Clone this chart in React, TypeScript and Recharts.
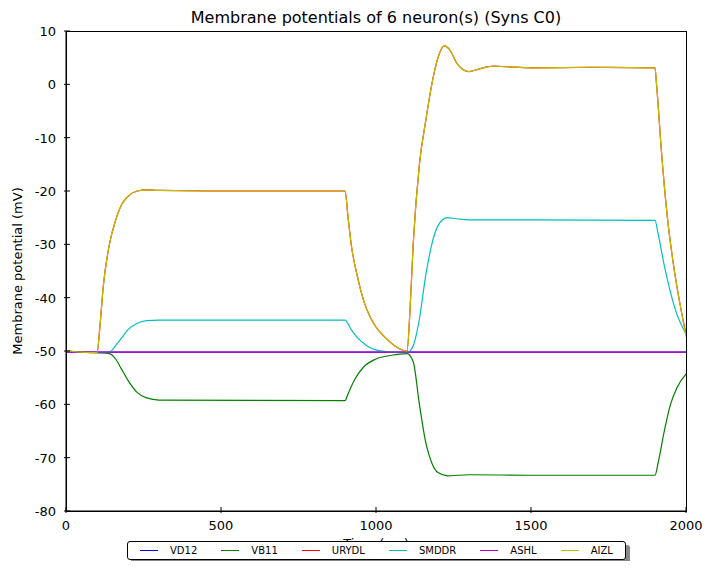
import React from "react";
import { LineChart, Line, XAxis, YAxis } from "recharts";

const tVD12 = [0, 2000];
const vVD12 = [-50.2, -50.2];
const tASHL = [0, 2000];
const vASHL = [-50.2, -50.2];
const tFast = [0, 50, 100, 110, 120, 140, 160, 180, 200, 230, 260, 300, 500, 900, 910, 920, 940, 960, 980, 1000, 1030, 1060, 1100, 1110, 1120, 1140, 1160, 1180, 1200, 1220, 1240, 1260, 1280, 1300, 1340, 1380, 1420, 1500, 1700, 1900, 1905, 1920, 1940, 1960, 1980, 2000];
const vURYDL = [-50, -50.2, -50.3, -45, -38, -30, -25.5, -22.5, -21, -20, -19.8, -19.9, -20, -20, -25, -30, -36, -40.5, -43.5, -45.5, -47.5, -49, -50, -42, -30, -15, -7, 0, 5, 7.2, 6.3, 4, 2.8, 2.4, 3, 3.4, 3.3, 3.1, 3.2, 3.1, 0, -12, -25, -34, -41, -46.8];
const vAIZL = [-50, -50.2, -50.3, -45, -38, -30, -25.5, -22.5, -21, -20, -19.8, -19.9, -20, -20, -25, -30, -36, -40.5, -43.5, -45.5, -47.5, -49, -50, -42, -30, -15, -7, 0, 5, 7.2, 6.3, 4, 2.8, 2.4, 3, 3.4, 3.3, 3.1, 3.2, 3.1, 0, -12, -25, -34, -41, -47.3];
const tSMDDR = [0, 100, 140, 160, 180, 200, 230, 260, 300, 900, 920, 940, 970, 1000, 1050, 1100, 1120, 1140, 1160, 1180, 1200, 1230, 1260, 1300, 1500, 1900, 1910, 1930, 1950, 1970, 2000];
const vSMDDR = [-50, -50.3, -50.2, -49, -47.5, -46, -44.8, -44.3, -44.2, -44.2, -46, -47.5, -49, -49.8, -50.2, -50.3, -49, -44, -36, -30, -26.5, -25, -25.2, -25.4, -25.4, -25.5, -28, -34, -39, -43, -46.8];
const tVB11 = [0, 100, 140, 160, 180, 200, 230, 260, 300, 900, 910, 930, 960, 1000, 1050, 1100, 1120, 1140, 1160, 1180, 1200, 1230, 1300, 1500, 1900, 1910, 1930, 1950, 1970, 2000];
const vVB11 = [-50, -50.3, -50.5, -51.5, -53.5, -55.5, -57.8, -58.8, -59.2, -59.3, -58, -55.5, -53, -51.5, -50.8, -50.5, -52, -60, -67, -71, -72.8, -73.4, -73.2, -73.3, -73.3, -71, -65, -60, -57, -54.3];

const xTicks = [0, 500, 1000, 1500, 2000];
const yTicks = [-80, -70, -60, -50, -40, -30, -20, -10, 0, 10];

const mk = (t: number[], v: number[]) => t.map((x, i) => ({ t: x, v: v[i] }));

const series = [
  { name: "VD12", color: "#0000ff", data: mk(tVD12, vVD12) },
  { name: "VB11", color: "#008000", data: mk(tVB11, vVB11) },
  { name: "URYDL", color: "#ff0000", data: mk(tFast, vURYDL) },
  { name: "SMDDR", color: "#00bfbf", data: mk(tSMDDR, vSMDDR) },
  { name: "ASHL", color: "#bf00bf", data: mk(tASHL, vASHL) },
  { name: "AIZL", color: "#bfbf00", data: mk(tFast, vAIZL) },
];

const font = "DejaVu Sans, sans-serif";

const BottomTick = (p: any) => (
  <g>
    <line x1={p.x} x2={p.x} y1={p.y} y2={p.y - 6} stroke="#000" />
    <text x={p.x} y={p.y + 17} textAnchor="middle" fontSize={13} fontFamily={font} fill="#000">{p.payload.value}</text>
  </g>
);
const TopTick = (p: any) => <line x1={p.x} x2={p.x} y1={p.y} y2={p.y + 6} stroke="#000" />;
const LeftTick = (p: any) => (
  <g>
    <line x1={p.x} x2={p.x + 6} y1={p.y} y2={p.y} stroke="#000" />
    <text x={p.x - 8} y={p.y + 5} textAnchor="end" fontSize={13} fontFamily={font} fill="#000">{p.payload.value}</text>
  </g>
);
const RightTick = (p: any) => <line x1={p.x} x2={p.x - 6} y1={p.y} y2={p.y} stroke="#000" />;

export default function App() {
  return (
    <div style={{ position: "relative", width: 713, height: 569, margin: -8, background: "#fff", fontFamily: font }}>
      <div style={{ position: "absolute", top: 8, left: 0, width: 752, textAlign: "center", fontSize: 16 }}>
        Membrane potentials of 6 neuron(s) (Syns C0)
      </div>
      <div style={{ position: "absolute", left: 2, top: 271, fontSize: 13, transform: "translate(0,-50%) rotate(-90deg)", transformOrigin: "center", width: 30, display: "flex", justifyContent: "center", whiteSpace: "nowrap" }}>
        <span>Membrane potential (mV)</span>
      </div>
      <div style={{ position: "absolute", left: 0, top: 536, width: 752, textAlign: "center", fontSize: 13 }}>Time (ms)</div>
      <LineChart width={713} height={569} margin={{ top: 31, right: 27, left: 10, bottom: 28 }} style={{ position: "absolute", left: 0, top: 0 }}>
        <XAxis dataKey="t" type="number" domain={[0, 2000]} ticks={xTicks} allowDuplicatedCategory={false} height={30} stroke="#000" tickLine={false} tickSize={0} tick={<BottomTick />} />
        <XAxis xAxisId="top" orientation="top" dataKey="t" type="number" domain={[0, 2000]} ticks={xTicks} height={0} stroke="#000" tickLine={false} tickSize={0} tick={<TopTick />} />
        <YAxis dataKey="v" type="number" domain={[-80, 10]} ticks={yTicks} width={56} stroke="#000" tickLine={false} tickSize={0} tick={<LeftTick />} />
        <YAxis yAxisId="right" orientation="right" type="number" domain={[-80, 10]} ticks={yTicks} width={0} stroke="#000" tickLine={false} tickSize={0} tick={<RightTick />} />
        {series.map((s) => (
          <Line key={s.name} data={s.data} dataKey="v" name={s.name} stroke={s.color} strokeWidth={1.2} dot={false} type="monotone" isAnimationActive={false} />
        ))}
      </LineChart>
      <div style={{ position: "absolute", left: 66, top: 31, width: 619, height: 479, border: "1px solid #000", pointerEvents: "none" }} />
      <div style={{ position: "absolute", left: 127, top: 541, width: 497, height: 17, border: "1px solid #000", borderRadius: 3, background: "#fff", boxShadow: "4px 4px 0 #888", display: "flex", alignItems: "center", justifyContent: "space-around", fontSize: 10 }}>
        {series.map((s) => (
          <div key={s.name} style={{ display: "flex", alignItems: "center", gap: 12 }}>
            <div style={{ width: 18, height: 1.5, background: s.color }} />
            <span>{s.name}</span>
          </div>
        ))}
      </div>
    </div>
  );
}
